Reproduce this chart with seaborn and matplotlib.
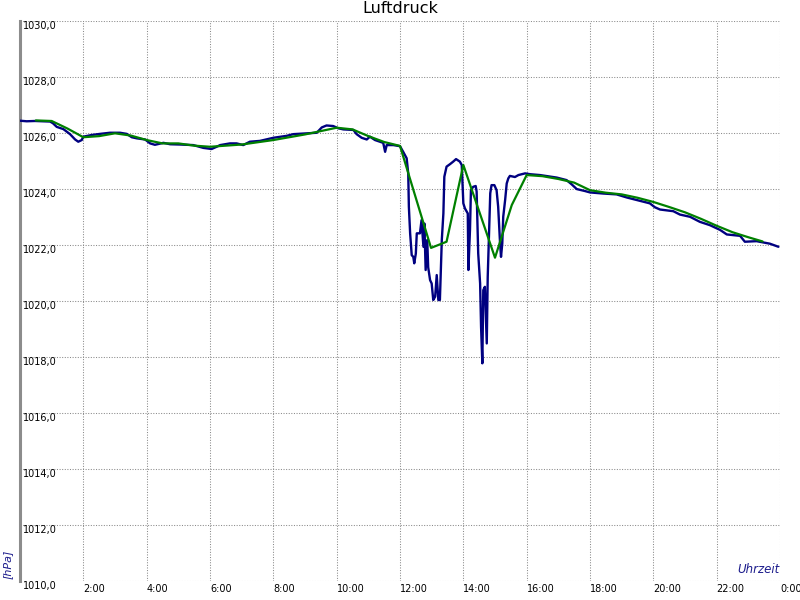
"""
Luftdruck über einen Tag: Messwerte (blau) und geglättete Kurve (grün).
"""

import matplotlib
matplotlib.use("Agg")
import matplotlib.pyplot as plt
import seaborn as sns

# Messwerte, Zeit in Stunden seit 0:00, Druck in hPa
MESS_ZEIT = [
    0.0, 0.21, 0.47, 0.95, 1.04, 1.16, 1.37, 1.58, 1.74, 1.84, 1.95, 2.0,
    2.26, 2.53, 2.84, 3.16, 3.37, 3.53, 3.69, 3.95, 4.11, 4.26, 4.53, 4.74,
    5.05, 5.47, 5.79, 6.05, 6.21, 6.32, 6.63, 6.84, 7.05, 7.26, 7.58, 8.0,
    8.42, 8.63, 9.05, 9.37, 9.53, 9.68, 9.89, 10.05, 10.21, 10.53, 10.63,
    10.79, 10.95, 11.05, 11.21, 11.37, 11.47, 11.53, 11.58, 11.79, 12.0,
    12.1, 12.21, 12.26, 12.28, 12.32, 12.37, 12.42, 12.45, 12.5, 12.53,
    12.63, 12.68, 12.74, 12.77, 12.81, 12.86, 12.89, 12.95, 13.0, 13.05,
    13.11, 13.16, 13.21, 13.26, 13.32, 13.37, 13.4, 13.47, 13.58, 13.68,
    13.77, 13.89, 13.95, 14.0, 14.05, 14.14, 14.16, 14.21, 14.24, 14.31,
    14.39, 14.42, 14.47, 14.53, 14.56, 14.6, 14.63, 14.68, 14.74, 14.77,
    14.81, 14.85, 14.89, 14.98, 15.05, 15.1, 15.16, 15.19, 15.23, 15.26,
    15.32, 15.37, 15.42, 15.47, 15.63, 15.74, 15.95, 16.11, 16.42, 16.95,
    17.26, 17.42, 17.58, 17.84, 18.0, 18.42, 18.84, 19.16, 19.58, 19.89,
    20.05, 20.21, 20.63, 20.84, 21.16, 21.47, 21.79, 22.11, 22.32, 22.74,
    22.89, 23.26, 23.68, 23.95]
MESS_DRUCK = [
    1026.43, 1026.41, 1026.42, 1026.40, 1026.34, 1026.21, 1026.13, 1025.95,
    1025.76, 1025.68, 1025.74, 1025.86, 1025.92, 1025.96, 1026.0, 1026.0,
    1025.96, 1025.84, 1025.8, 1025.76, 1025.62, 1025.57, 1025.64, 1025.59,
    1025.58, 1025.56, 1025.46, 1025.42, 1025.5, 1025.56, 1025.62, 1025.62,
    1025.56, 1025.68, 1025.71, 1025.82, 1025.89, 1025.95, 1025.98, 1026.0,
    1026.19, 1026.26, 1026.24, 1026.16, 1026.12, 1026.1, 1025.95, 1025.82,
    1025.76, 1025.86, 1025.74, 1025.68, 1025.64, 1025.32, 1025.56, 1025.56,
    1025.52, 1025.32, 1025.09, 1024.55, 1023.36, 1022.41, 1021.63, 1021.57,
    1021.34, 1021.69, 1022.41, 1022.41, 1022.88, 1021.93, 1022.76, 1021.1,
    1022.17, 1021.2, 1020.74, 1020.62, 1020.03, 1020.15, 1020.92, 1020.03,
    1020.03, 1022.17, 1023.12, 1024.43, 1024.79, 1024.88, 1024.97, 1025.06,
    1024.97, 1024.85, 1023.48, 1023.3, 1023.12, 1021.1, 1022.53, 1023.95,
    1024.07, 1024.1, 1023.9, 1021.69, 1020.62, 1019.07, 1017.77, 1020.38,
    1020.5, 1018.48, 1020.85, 1022.41, 1023.84, 1024.13, 1024.13, 1023.95,
    1023.36, 1022.05, 1021.57, 1022.05, 1023.0, 1023.6, 1024.19, 1024.37,
    1024.46, 1024.42, 1024.49, 1024.55, 1024.52, 1024.49, 1024.4, 1024.31,
    1024.16, 1023.99, 1023.92, 1023.87, 1023.83, 1023.8, 1023.69, 1023.57,
    1023.48, 1023.34, 1023.26, 1023.2, 1023.08, 1023.0, 1022.82, 1022.7,
    1022.53, 1022.37, 1022.32, 1022.11, 1022.13, 1022.04, 1021.93]

# geglaettete Kurve
MITTEL_ZEIT = [
    0.5, 1.0, 1.5, 2.0, 2.5, 3.0, 3.5, 4.0, 4.5, 5.0, 5.5, 6.0, 7.0, 8.0,
    9.0, 10.0, 10.5, 11.0, 11.5, 12.0, 12.98, 13.47, 14.0, 15.0, 15.53,
    16.0, 16.5, 17.0, 17.5, 18.0, 18.5, 19.0, 19.5, 20.0, 20.5, 21.0, 21.5,
    22.0, 22.5, 23.0, 23.45]
MITTEL_DRUCK = [
    1026.44, 1026.42, 1026.15, 1025.84, 1025.88, 1025.98, 1025.9, 1025.74,
    1025.62, 1025.62, 1025.54, 1025.5, 1025.58, 1025.74, 1025.94, 1026.18,
    1026.12, 1025.88, 1025.67, 1025.53, 1021.89, 1022.11, 1024.85, 1021.54,
    1023.42, 1024.49, 1024.45, 1024.35, 1024.22, 1023.95, 1023.86, 1023.80,
    1023.68, 1023.53, 1023.35, 1023.16, 1022.93, 1022.68, 1022.45, 1022.27,
    1022.12]

Y_TICKS = [1010, 1012, 1014, 1016, 1018, 1020, 1022, 1024, 1026, 1028, 1030]
X_TICKS = [0, 2, 4, 6, 8, 10, 12, 14, 16, 18, 20, 22, 24]
X_LABELS = ["", "2:00", "4:00", "6:00", "8:00", "10:00", "12:00", "14:00",
            "16:00", "18:00", "20:00", "22:00", "0:00"]

BLAU = "#000080"
GRUEN = "#008000"
TEXTBLAU = "#1c1c8c"


def main():
    sns.set_theme(style="white")
    plt.rcParams["font.family"] = ["DejaVu Sans"]

    fig = plt.figure(figsize=(8, 6), dpi=100)
    ax = fig.add_axes([0.025, 0.0317, 0.95, 0.9338])

    sns.lineplot(x=MESS_ZEIT, y=MESS_DRUCK, color=BLAU, linewidth=1.7,
                 sort=False, estimator=None, ax=ax, zorder=3)
    sns.lineplot(x=MITTEL_ZEIT, y=MITTEL_DRUCK, color=GRUEN, linewidth=1.6,
                 sort=False, estimator=None, ax=ax, zorder=4)

    ax.set_xlim(0, 24)
    ax.set_ylim(1010, 1030)
    ax.set_xticks(X_TICKS)
    ax.set_xticklabels(X_LABELS)
    ax.set_yticks(Y_TICKS)
    ax.set_yticklabels([f"{v},0" for v in Y_TICKS])

    ax.grid(True, color="#8a8a8a", linestyle=(0, (1, 1.5)), linewidth=0.75)
    for side in ["top", "right", "bottom"]:
        ax.spines[side].set_visible(False)
    ax.spines["left"].set_color("#8c8c8c")
    ax.spines["left"].set_linewidth(2.2)

    ax.tick_params(axis="both", length=0, labelsize=7, colors="black")
    ax.tick_params(axis="y", pad=-2)
    ax.tick_params(axis="x", pad=2)
    for lbl in ax.get_yticklabels():
        lbl.set_horizontalalignment("left")
        lbl.set_verticalalignment("top")
    for lbl in ax.get_xticklabels():
        lbl.set_horizontalalignment("left")

    ax.set_xlabel("")
    ax.set_ylabel("")
    fig.text(0.5, 0.999, "Luftdruck", ha="center", va="top", fontsize=11.5,
             color="black")
    fig.text(0.01, 0.035, "[hPa]", rotation=90, ha="center", va="bottom",
             fontsize=8, style="italic", color=TEXTBLAU)
    ax.text(0.999, 0.008, "Uhrzeit", transform=ax.transAxes, ha="right",
            va="bottom", fontsize=8.5, style="italic", color=TEXTBLAU)

    fig.savefig("out.png", dpi=100)


if __name__ == "__main__":
    main()
